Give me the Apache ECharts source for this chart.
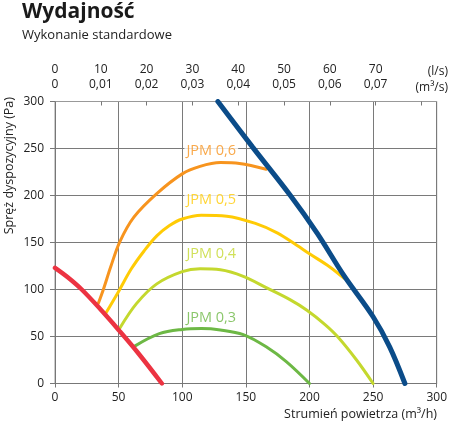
<!DOCTYPE html>
<html>
<head>
<meta charset="utf-8">
<script src="https://cdn.jsdelivr.net/npm/echarts@6/dist/echarts.min.js"></script>
<style>
  html, body { margin: 0; padding: 0; background: #fff; }
  #graph { width: 450px; height: 424px; }
</style>
</head>
<body>
<div id="graph"></div>
<script>
// dane: [przepływ m3/h, spręż Pa]
var jpm06 = [[34, 85], [38, 100], [44, 125], [51, 151], [62, 177], [80, 202], [100, 223], [114, 231], [130, 235], [145, 234], [166, 228]];
var jpm05 = [[40, 75], [50, 98], [60, 122], [70, 141], [80, 157], [90, 168], [100, 175], [115, 179], [135, 178], [158, 170], [175, 160], [190, 147], [200, 138], [216, 124], [227, 112]];
var jpm04 = [[51, 59], [64, 85], [80, 106], [100, 119], [114, 122], [130, 121], [148, 114], [166, 102], [185, 89], [198, 78], [212, 63], [222, 50], [237, 25], [250, 0]];
var jpm03 = [[63, 40], [82, 53], [100, 57.5], [115, 58.5], [130, 57], [148, 52], [166, 39], [182, 23], [200, 0]];
var redLine = [[0, 123], [10, 113], [21, 100], [35, 80], [50, 57], [65, 33], [84, 0]];
var blueLine = [[128, 300], [155, 252], [185, 200], [206, 160], [227, 115], [250, 71], [263, 39], [275, 0]];

var seriesNames = ['JPM 0,6', 'JPM 0,5', 'JPM 0,4', 'JPM 0,3'];
var labelPos = [[101.3, 247], [101.3, 195], [101.3, 138], [101.3, 70]];

var flowTicks = [0, 50, 100, 150, 200, 250, 300];     // m3/h
var pressTicks = [0, 50, 100, 150, 200, 250, 300];    // Pa
var lsTicks = [0, 10, 20, 30, 40, 50, 60, 70];        // l/s

var colors = ['#F7941E', '#FFCB05', '#C4D82E', '#6DB845'];
var FONT = '"Open Sans", sans-serif';

var myChart = echarts.init(document.getElementById('graph'));

function curve(name, data, color, width) {
    return {
        name: name,
        type: 'line',
        data: data,
        smooth: 0.35,
        symbol: 'none',
        silent: true,
        lineStyle: { color: color, width: width, cap: 'round' }
    };
}

var series = [
    curve(seriesNames[3], jpm03, colors[3], 3),
    curve(seriesNames[2], jpm04, colors[2], 3),
    curve(seriesNames[1], jpm05, colors[1], 3),
    curve(seriesNames[0], jpm06, colors[0], 3),
    curve('red', redLine, '#EC3342', 4.5),
    curve('blue', blueLine, '#0B4C89', 5)
];

series.push({
    type: 'scatter',
    symbolSize: 1,
    silent: true,
    z: 5,
    itemStyle: { color: 'rgba(0,0,0,0)' },
    data: labelPos.map(function (p, i) {
        return {
            value: p,
            label: {
                show: true,
                position: 'right',
                distance: 0,
                formatter: seriesNames[i],
                color: colors[i],
                fontFamily: FONT,
                fontSize: 14.5,
                backgroundColor: '#fff',
                padding: [0, 2, 0, 2]
            }
        };
    })
});

var option = {
    animation: false,
    textStyle: { fontFamily: FONT },
    grid: {
        left: 55,
        right: 13,
        top: 101.5,
        bottom: 40.5,
        show: true,
        borderColor: '#999',
        borderWidth: 1
    },
    xAxis: [
        {
            type: 'value',
            min: flowTicks[0],
            max: flowTicks[flowTicks.length - 1],
            interval: 50,
            axisLine: { show: true, lineStyle: { color: '#777' } },
            axisTick: { show: true, length: 4, lineStyle: { color: '#777' } },
            axisLabel: { color: '#222', fontSize: 12, margin: 8 },
            splitLine: { show: true, lineStyle: { color: '#7a7a7a', width: 1 } }
        },
        {
            type: 'value',
            position: 'top',
            min: 0,
            max: 300 / 3.6,
            interval: 10,
            axisLine: { show: true, onZero: false, lineStyle: { color: '#999' } },
            axisTick: { show: true, inside: true, length: 4, lineStyle: { color: '#777' } },
            axisLabel: {
                color: '#222',
                fontSize: 12,
                lineHeight: 15.5,
                margin: 9,
                showMaxLabel: false,
                formatter: function (v) {
                    if (lsTicks.indexOf(v) < 0) return '';
                    var m3 = v === 0 ? '0' : (v / 1000).toFixed(2).replace('.', ',');
                    return v + '\n' + m3;
                }
            },
            splitLine: { show: false }
        }
    ],
    yAxis: {
        type: 'value',
        min: pressTicks[0],
        max: pressTicks[pressTicks.length - 1],
        interval: 50,
        axisLine: { show: true, lineStyle: { color: '#777' } },
        axisTick: { show: true, length: 5, lineStyle: { color: '#777' } },
        axisLabel: { color: '#222', fontSize: 12, margin: 11 },
        splitLine: { show: true, lineStyle: { color: '#7a7a7a', width: 1 } }
    },
    graphic: [
        {
            type: 'text', x: 22, y: 12,
            style: { text: 'Wydajność', font: 'bold 21px ' + FONT, fill: '#1a1a1a', verticalAlign: 'middle' }
        },
        {
            type: 'text', x: 22, y: 35,
            style: { text: 'Wykonanie standardowe', font: '13px ' + FONT, fill: '#222', verticalAlign: 'middle' }
        },
        {
            type: 'text', x: 448, y: 72,
            style: { text: '(l/s)', font: '12px ' + FONT, fill: '#222', align: 'right', verticalAlign: 'middle' }
        },
        {
            type: 'text', x: 448, y: 87.5,
            style: { text: '(m³/s)', font: '12px ' + FONT, fill: '#222', align: 'right', verticalAlign: 'middle' }
        },
        {
            type: 'text', x: 437, y: 414,
            style: { text: 'Strumień powietrza (m³/h)', font: '12.5px ' + FONT, fill: '#222', align: 'right', verticalAlign: 'middle' }
        },
        {
            type: 'text', x: 9, y: 97, rotation: Math.PI / 2,
            style: { text: 'Spręż dyspozycyjny (Pa)', font: '12.5px ' + FONT, fill: '#222', align: 'right', verticalAlign: 'middle' }
        }
    ],
    series: series
};

myChart.setOption(option);
</script>
</body>
</html>
